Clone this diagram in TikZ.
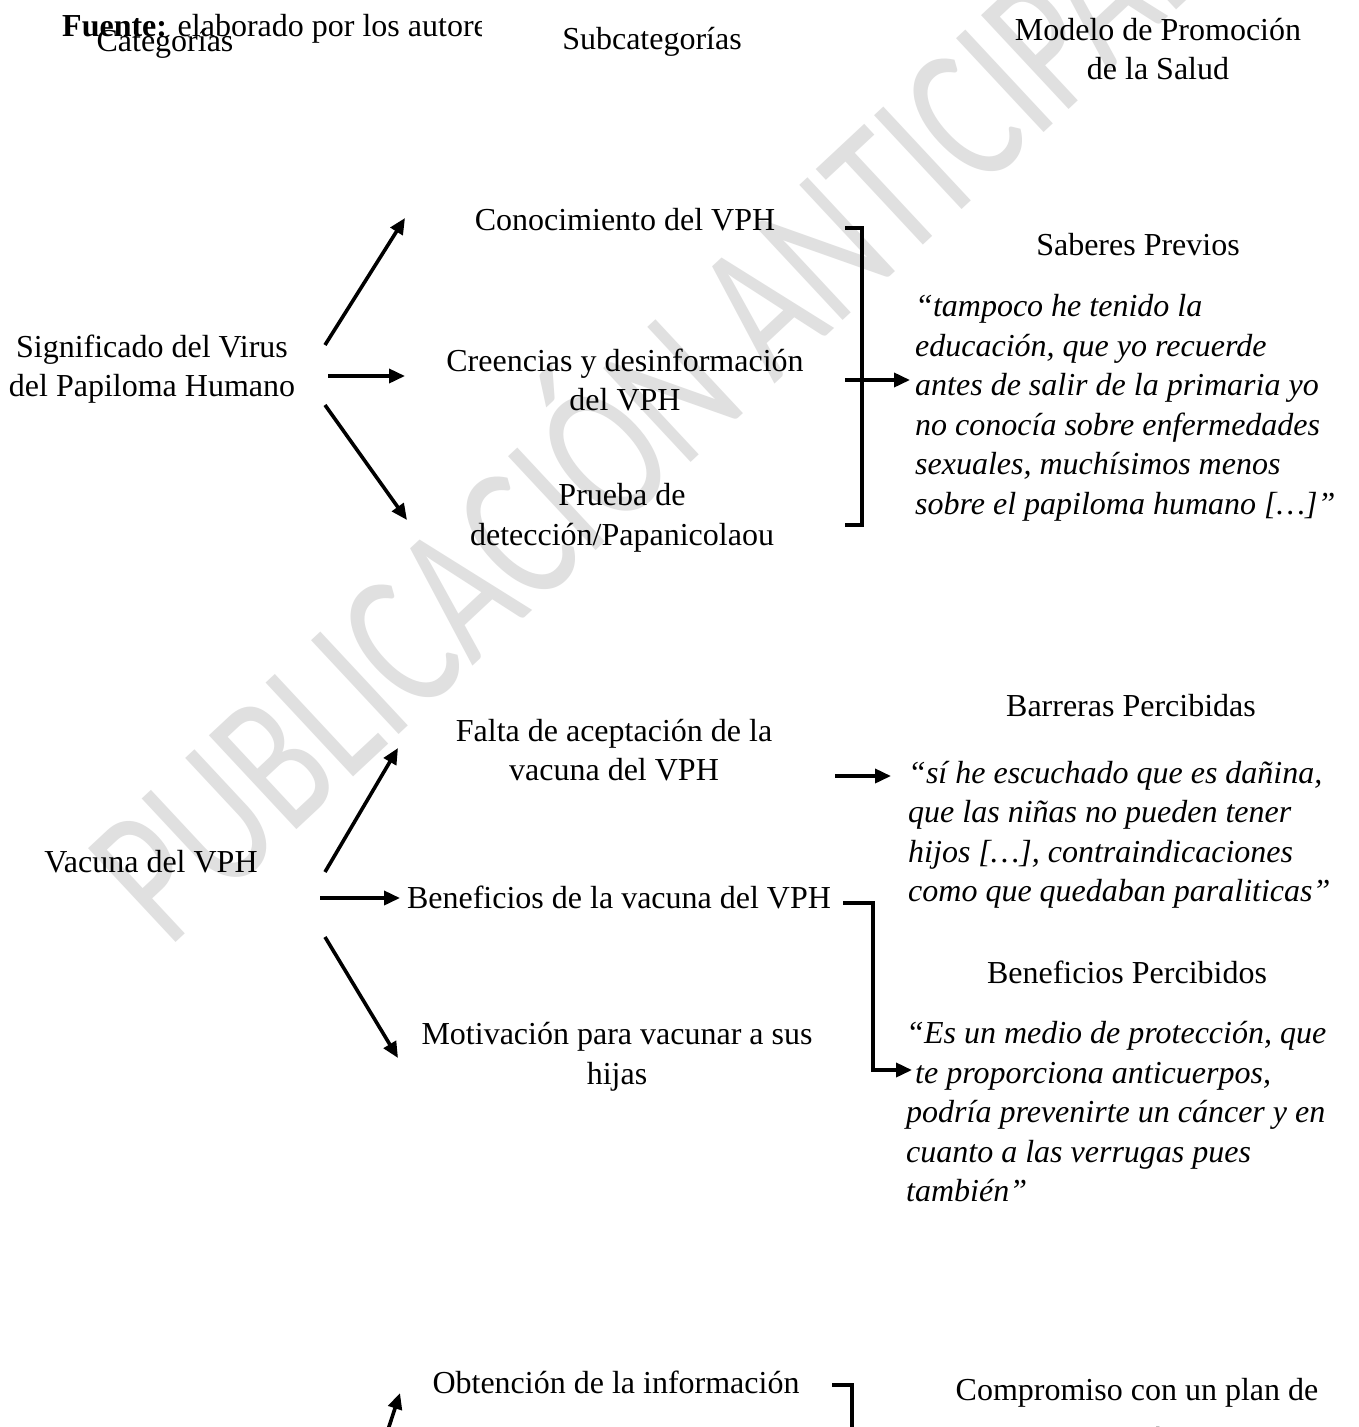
\documentclass[tikz,border=0pt]{standalone}
\usepackage{fontspec}
\setmainfont{Liberation Serif}
\newfontfamily\wmfont{Carlito}
\usetikzlibrary{arrows.meta,calc}
\definecolor{wmgray}{RGB}{224,224,224}
\begin{document}
\begin{tikzpicture}[x=1pt,y=-1pt,
  txt/.style={inner sep=0pt,align=center,font=\fontsize{32}{39.5}\selectfont},
  quote/.style={inner sep=0pt,align=left,anchor=west,font=\fontsize{32}{39.5}\selectfont\itshape},
  arr/.style={line width=3.6pt,-{Triangle[length=16pt,width=14pt]}},
  brk/.style={line width=3.6pt}]
\fill[white] (0,0) rectangle (1359,1427);
\useasboundingbox (0,0) rectangle (1359,1427);
% watermark
\node[inner sep=0pt,anchor=base west,rotate=43,xscale=0.715,text=wmgray,
  font=\fontsize{200}{200}\wmfont] (wm) at (168,950) {PUBLICACIÓN ANTICIPADA};
% header
\begin{scope}
\clip (0,0) rectangle (481,70);
\node[inner sep=0pt,anchor=base west,font=\fontsize{32}{39.5}\selectfont] (fuente) at (62,36) {\textbf{Fuente:} elaborado por los autores.};
\end{scope}
\node[txt] (hcat) at (165,44) {Categorías};
\node[txt] (hsub) at (652,42) {Subcategorías};
\node[txt] (hmod) at (1158,49) {Modelo de Promoción\\de la Salud};
% group 1
\node[txt] (sig) at (152,369) {Significado del Virus\\del Papiloma Humano};
\node[txt] (con) at (625,220) {Conocimiento del VPH};
\node[txt] (cre) at (625,380) {Creencias y desinformación\\del VPH};
\node[txt] (pru) at (622,518) {Prueba de\\detección/Papanicolaou};
\node[txt] (sab) at (1138,245) {Saberes Previos};
\node[quote] (q1) at (915,408) {“tampoco he tenido la\\educación, que yo recuerde\\antes de salir de la primaria yo\\no conocía sobre enfermedades\\sexuales, muchísimos menos\\sobre el papiloma humano […]”};
\draw[arr] ([shift={(173,-24)}]sig.center) -- ([shift={(-220,-2)}]con.center);
\draw[arr] ([shift={(176,7)}]sig.center) -- ([shift={(-220,-4)}]cre.center);
\draw[arr] ([shift={(173,36)}]sig.center) -- ([shift={(-215,2)}]pru.center);
\draw[brk] ([shift={(220,8)}]con.center) -| ([shift={(240,7)}]pru.center) -- ([shift={(223,7)}]pru.center);
\draw[arr] ([shift={(220,0)}]cre.center) -- ([shift={(-5,-28)}]q1.west);
% group 2
\node[txt] (vac) at (151,862) {Vacuna del VPH};
\node[txt] (fal) at (614,750) {Falta de aceptación de la\\vacuna del VPH};
\node[txt] (ben) at (619,897) {Beneficios de la vacuna del VPH};
\node[txt] (mot) at (617,1057) {Motivación para vacunar a sus\\hijas};
\node[txt] (bar) at (1131,706) {Barreras Percibidas};
\node[quote] (q2) at (908,835) {“sí he escuchado que es dañina,\\que las niñas no pueden tener\\hijos […], contraindicaciones\\como que quedaban paraliticas”};
\node[txt] (bpe) at (1127,972) {Beneficios Percibidos};
\node[quote] (q3) at (906,1112) {“Es un medio de protección, que\\\hspace*{9pt}te proporciona anticuerpos,\\podría prevenirte un cáncer y en\\cuanto a las verrugas pues\\también”};
\draw[arr] ([shift={(174,10)}]vac.center) -- ([shift={(-216,-2)}]fal.center);
\draw[arr] ([shift={(169,36)}]vac.center) -- ([shift={(-219,1)}]ben.center);
\draw[arr] ([shift={(174,75)}]vac.center) -- ([shift={(-219,1)}]mot.center);
\draw[arr] ([shift={(221,26)}]fal.center) -- ([shift={(-17,-59)}]q2.west);
\draw[arr] ([shift={(224,6)}]ben.center) -| ([shift={(-33,-42)}]q3.west) -- ([shift={(6,-42)}]q3.west);
% group 3
\node[txt] (obt) at (616,1382) {Obtención de la información};
\node[txt] (com) at (1137,1414) {Compromiso con un plan de\\[9pt]acción};
\coordinate (cat3) at (383,1445);
\draw[arr] (cat3) -- ([shift={(-216,11)}]obt.center);
\draw[brk] ([shift={(216,3)}]obt.center) -- ([shift={(236,3)}]obt.center) -- ([shift={(236,70)}]obt.center);
\end{tikzpicture}
\end{document}
